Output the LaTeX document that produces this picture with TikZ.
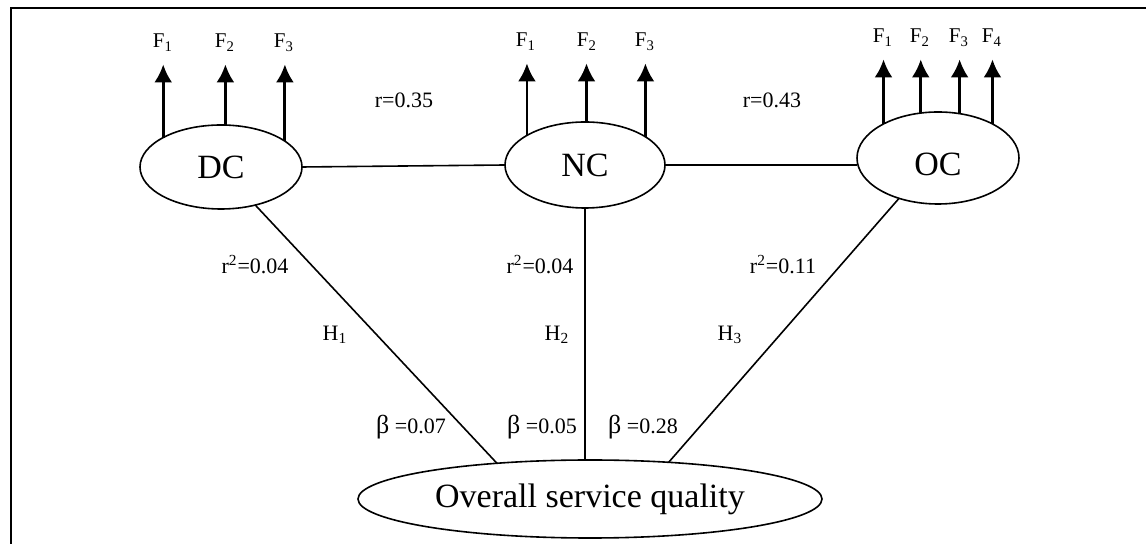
\documentclass[tikz,border=0pt]{standalone}
\usepackage{fontspec}
\setmainfont{Liberation Serif}
\usetikzlibrary{shapes.geometric,arrows.meta}
\begin{document}
\begin{tikzpicture}[x=0.5pt,y=-0.5pt,
  ell/.style={draw,ellipse,line width=0.8pt,inner sep=0pt,outer sep=0pt},
  arr/.style={-{Latex[length=9pt,width=9pt]},line width=1.4pt,shorten >=6pt},
  lnk/.style={line width=0.8pt},
  flab/.style={font=\fontsize{10.5}{12}\selectfont,inner sep=0pt,text height=7pt,text depth=2pt},
  lab/.style={font=\fontsize{11}{12}\selectfont,inner sep=0pt},
  big/.style={font=\fontsize{17}{20}\selectfont}]
\useasboundingbox (0,0) rectangle (1146,544);
\draw[line width=0.8pt] (1146,8) -- (11,8) -- (11,544);

% ellipses
\node[ell,big,minimum width=81pt,minimum height=42pt] (DC) at (221,167) {DC};
\node[ell,big,minimum width=80pt,minimum height=43pt] (NC) at (585,165) {NC};
\node[ell,big,minimum width=81pt,minimum height=46pt,text height=18pt,text depth=0pt] (OC) at (938,158) {OC};
\node[ell,big,minimum width=232pt,minimum height=39pt] (Q) at (590,499) {Overall service quality};

% F labels
\node[flab] (d1) at (163,43) {F\textsubscript{1}};
\node[flab] (d2) at (225,43) {F\textsubscript{2}};
\node[flab] (d3) at (284,43) {F\textsubscript{3}};
\node[flab] (n1) at (526,42) {F\textsubscript{1}};
\node[flab] (n2) at (587,42) {F\textsubscript{2}};
\node[flab] (n3) at (645,42) {F\textsubscript{3}};
\node[flab] (o1) at (883,38) {F\textsubscript{1}};
\node[flab] (o2) at (920,38) {F\textsubscript{2}};
\node[flab] (o3) at (959,38) {F\textsubscript{3}};
\node[flab] (o4) at (992,38) {F\textsubscript{4}};

% arrows
\draw[arr] (DC.153.2) -- (DC.153.2 |- d1.south);
\draw[arr] (DC.84.6) -- (DC.84.6 |- d2.south);
\draw[arr] (DC.22.7) -- (DC.22.7 |- d3.south);
\draw[arr] (NC.153.8) -- (NC.153.8 |- n1.south);
\draw[arr] (NC.88.6) -- (NC.88.6 |- n2.south);
\draw[arr] (NC.25.3) -- (NC.25.3 |- n3.south);
\draw[arr] (OC.148.4) -- (OC.148.4 |- o1.south);
\draw[arr] (OC.111.8) -- (OC.111.8 |- o2.south);
\draw[arr] (OC.64.7) -- (OC.64.7 |- o3.south);
\draw[arr] (OC.32.4) -- (OC.32.4 |- o4.south);

% links
\draw[lnk] (DC.east) -- (NC.west);
\draw[lnk] (NC.east) -- (NC.east -| OC.west);
\draw[lnk] (DC.-48.3) -- (Q.159);
\draw[lnk] (NC.south) -- (NC.south |- Q.north);
\draw[lnk] (OC.226.9) -- (Q.25.8);

% labels
\node[lab] (r1) at (404,100) {r=0.35};
\node[lab] (r2) at (772,100) {r=0.43};
\node[lab] (s1) at (255,265) {r\textsuperscript{2}=0.04};
\node[lab] (s2) at (540,265) {r\textsuperscript{2}=0.04};
\node[lab] (s3) at (783,265) {r\textsuperscript{2}=0.11};
\node[lab] (h1) at (335,335) {H\textsubscript{1}};
\node[lab] (h2) at (557,335) {H\textsubscript{2}};
\node[lab] (h3) at (730,335) {H\textsubscript{3}};
\node[lab] (b1) at (411,427) {{\fontsize{13}{14}\selectfont β} =0.07};
\node[lab] (b2) at (542,427) {{\fontsize{13}{14}\selectfont β} =0.05};
\node[lab] (b3) at (643,427) {{\fontsize{13}{14}\selectfont β} =0.28};
\end{tikzpicture}
\end{document}
